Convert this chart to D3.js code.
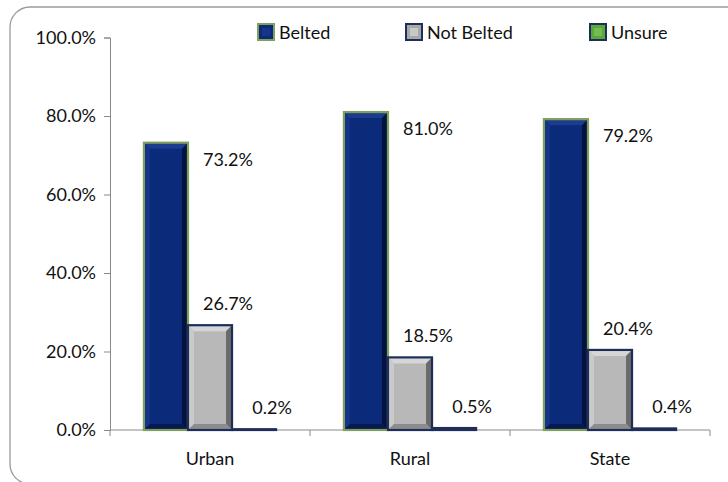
<!DOCTYPE html>
<html><head><meta charset="utf-8">
<script src="https://cdn.jsdelivr.net/npm/d3@7"></script>
<style>body{margin:0;background:#fff}svg{display:block}text{font-family:Lato,"Open Sans",sans-serif;fill:#111}</style>
</head><body><svg id="c" width="728" height="482"></svg>
<script>
const categories = ["Urban", "Rural", "State"];
const seriesNames = ["Belted", "Not Belted", "Unsure"];
const belted = [73.2, 81.0, 79.2];
const notBelted = [26.7, 18.5, 20.4];
const unsure = [0.2, 0.5, 0.4];
const yTicks = [0, 20, 40, 60, 80, 100];

const seriesValues = [belted, notBelted, unsure];
const styles = [
  {stroke:"#7f9f5a", c:"#0b2a7a", top:"#1c3c90", left:"#14348a", right:"#031340", bottom:"#061a50", sw:"#0b2a7a"},
  {stroke:"#1f2d5a", c:"#b8b8b8", top:"#d6d6d6", left:"#cacaca", right:"#6a6a6a", bottom:"#8c8c8c", sw:"#a8a8a8"},
  {stroke:"#1f2d5a", c:"#62ad3a", top:"#7fc455", left:"#74bb4a", right:"#3a7a20", bottom:"#4a8a2a", sw:"#5aa83a"}
];

const svg = d3.select("#c");
// chart border (right and bottom edges run off the picture)
svg.append("rect").attr("x",10).attr("y",7).attr("width",780).attr("height",477)
  .attr("rx",20).attr("fill","none").attr("stroke","#9a9a9a").attr("stroke-width",1.3);

const y = d3.scaleLinear().domain([0,100]).range([430,37.5]);
const x0 = d3.scaleBand().domain(categories).range([110,710]).padding(0);
const x1 = d3.scaleBand().domain(seriesNames).range([0,x0.bandwidth()]).paddingInner(0).paddingOuter(0.77);

// axes
const yAxis = svg.append("g").attr("transform","translate(110,0)")
  .call(d3.axisLeft(y).tickValues(yTicks).tickSize(6).tickPadding(8).tickFormat(d=>d3.format(".1f")(d)+"%"));
yAxis.select(".domain").attr("stroke","#8a8a8a");
yAxis.selectAll(".tick line").attr("stroke","#8a8a8a");
yAxis.selectAll("text").style("font-size","18px").attr("fill","#111");

const xAxis = svg.append("g").attr("transform","translate(0,430)")
  .call(d3.axisBottom(x0).tickSize(0).tickPadding(22));
xAxis.select(".domain").attr("stroke","#8a8a8a").attr("d","M110,0H710");
xAxis.selectAll("text").style("font-size","18px").attr("fill","#111");
const bounds = [110].concat(categories.map(c=>x0(c)+x0.bandwidth()));
xAxis.selectAll(".bt").data(bounds).enter().append("line")
  .attr("x1",d=>d).attr("x2",d=>d).attr("y1",0).attr("y2",6).attr("stroke","#8a8a8a");

function bevelBar(g, bx, by, bw, bh, s){
  g.append("rect").attr("x",bx).attr("y",by).attr("width",bw).attr("height",bh).attr("fill",s.c);
  const b = Math.min(6, bw/2, bh/2);
  if (b > 1) {
    const p = (pts,f)=>g.append("polygon").attr("points",pts.map(q=>q.join(",")).join(" ")).attr("fill",f);
    p([[bx,by],[bx+bw,by],[bx+bw-b,by+b],[bx+b,by+b]], s.top);
    p([[bx,by],[bx+b,by+b],[bx+b,by+bh-b],[bx,by+bh]], s.left);
    p([[bx+bw,by],[bx+bw,by+bh],[bx+bw-b,by+bh-b],[bx+bw-b,by+b]], s.right);
    p([[bx,by+bh],[bx+b,by+bh-b],[bx+bw-b,by+bh-b],[bx+bw,by+bh]], s.bottom);
  }
  g.append("rect").attr("x",bx).attr("y",by).attr("width",bw).attr("height",Math.max(bh,0.5))
    .attr("fill","none").attr("stroke",s.stroke).attr("stroke-width",2.2);
}

const barsG = svg.append("g");
categories.forEach((cat,ci)=>{
  seriesNames.forEach((sn,si)=>{
    const v = seriesValues[si][ci];
    const bx = x0(cat)+x1(sn), bw = x1.bandwidth();
    const by = y(v), bh = y(0)-y(v);
    bevelBar(barsG, bx, by, bw, bh, styles[si]);
    const cx = bx + bw/2;
    const lx = si===0 ? cx + 62 : cx + 18;
    const ly = si===0 ? by + 16 : by - 22;
    svg.append("text").attr("x",lx).attr("y",ly).attr("text-anchor","middle")
      .attr("dominant-baseline","central").style("font-size","18px").text(d3.format(".1f")(v)+"%");
  });
});

// legend
const legX = [258, 406, 590];
const leg = svg.append("g");
seriesNames.forEach((sn,i)=>{
  const g = leg.append("g").attr("transform",`translate(${legX[i]},24)`);
  g.append("rect").attr("x",0).attr("y",0).attr("width",16).attr("height",16)
    .attr("fill",styles[i].sw).attr("stroke",i===0?"#7f9f5a":"#1f2d5a").attr("stroke-width",2);
  g.append("rect").attr("x",4).attr("y",4).attr("width",8).attr("height",8)
    .attr("fill",styles[i].top).attr("opacity",0.7);
  g.append("text").attr("x",21).attr("y",8).attr("dominant-baseline","central")
    .style("font-size","18px").text(sn);
});
</script></body></html>
